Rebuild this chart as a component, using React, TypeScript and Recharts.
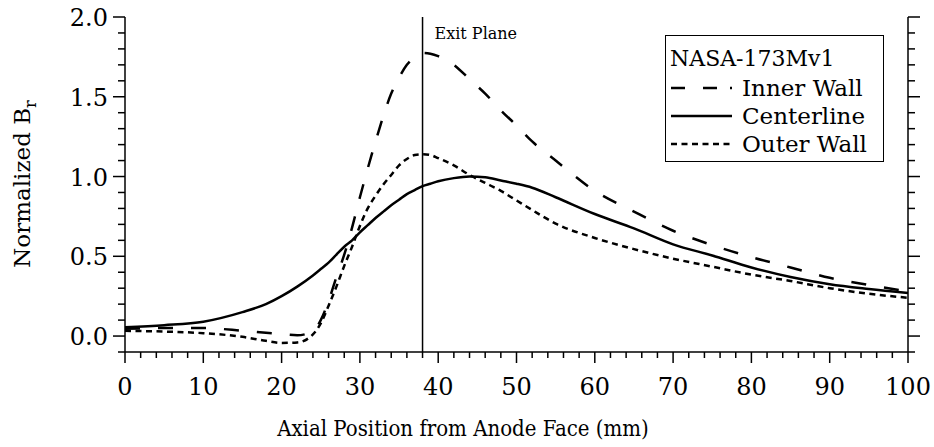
import { LineChart, Line, XAxis, YAxis, ReferenceLine } from 'recharts'

const axialPosition = [0, 5, 10, 15, 18, 20, 22, 24, 25, 26, 27, 28, 29, 30, 31, 32, 33, 34, 35, 36, 37, 38, 39, 40, 42, 44, 46, 48, 50, 52, 55, 60, 65, 70, 75, 80, 85, 90, 95, 100]
const innerWall = [0.045, 0.05, 0.05, 0.033, 0.02, 0.012, 0.005, 0.03, 0.1, 0.22, 0.37, 0.51, 0.68, 0.87, 1.05, 1.22, 1.38, 1.52, 1.62, 1.7, 1.75, 1.775, 1.77, 1.755, 1.7, 1.61, 1.52, 1.415, 1.32, 1.22, 1.1, 0.91, 0.78, 0.66, 0.57, 0.495, 0.43, 0.365, 0.32, 0.28]
const centerline = [0.055, 0.068, 0.09, 0.15, 0.2, 0.25, 0.31, 0.38, 0.42, 0.46, 0.51, 0.56, 0.6, 0.65, 0.695, 0.74, 0.78, 0.82, 0.855, 0.89, 0.915, 0.94, 0.955, 0.97, 0.99, 1.0, 0.995, 0.975, 0.955, 0.93, 0.87, 0.765, 0.675, 0.575, 0.505, 0.43, 0.37, 0.325, 0.295, 0.27]
const outerWall = [0.033, 0.028, 0.018, -0.005, -0.03, -0.043, -0.04, 0.01, 0.08, 0.19, 0.31, 0.44, 0.56, 0.69, 0.8, 0.88, 0.95, 1.01, 1.07, 1.11, 1.135, 1.14, 1.135, 1.115, 1.07, 1.01, 0.96, 0.91, 0.85, 0.79, 0.705, 0.615, 0.545, 0.485, 0.435, 0.385, 0.345, 0.3, 0.265, 0.24]

const xMajorTicks = [0, 10, 20, 30, 40, 50, 60, 70, 80, 90, 100]
const xTicks = Array.from({ length: 51 }, (_, i) => i * 2)
const yMajorTicks = [0, 0.5, 1, 1.5, 2]
const yTicks = Array.from({ length: 22 }, (_, i) => (i - 1) / 10)
const exitPlane = 38

const data = axialPosition.map((x, i) => ({
  x,
  inner: innerWall[i],
  center: centerline[i],
  outer: outerWall[i],
}))

const FONT = "'Century Schoolbook', 'DejaVu Serif', serif"
const NARROW = "'Century Schoolbook', 'DejaVu Serif Condensed', 'DejaVu Serif', serif"

const isMajorX = (v: number) => xMajorTicks.includes(v)
const isMajorY = (v: number) => yMajorTicks.some((m) => Math.abs(m - v) < 1e-6)

function BottomTick({ x, y, payload }: any) {
  const major = isMajorX(payload.value)
  return (
    <g>
      <line x1={x} x2={x} y1={y} y2={y + (major ? 11 : 6)} stroke="#000" strokeWidth={1.5} />
      {major && (
        <text x={x} y={y + 43} textAnchor="middle" fontFamily={FONT} fontSize={24} fill="#000">
          {payload.value}
        </text>
      )}
    </g>
  )
}

function TopTick({ x, y, payload }: any) {
  const major = isMajorX(payload.value)
  return <line x1={x} x2={x} y1={y} y2={y - (major ? 11 : 5)} stroke="#000" strokeWidth={1.5} />
}

function LeftTick({ x, y, payload }: any) {
  const major = isMajorY(payload.value)
  return (
    <g>
      <line x1={x} x2={x - (major ? 12 : 7)} y1={y} y2={y} stroke="#000" strokeWidth={1.5} />
      {major && (
        <text x={x - 17} y={y + 9} textAnchor="end" fontFamily={FONT} fontSize={24} fill="#000">
          {payload.value.toFixed(1)}
        </text>
      )}
    </g>
  )
}

function RightTick({ x, y, payload }: any) {
  const major = isMajorY(payload.value)
  return <line x1={x} x2={x + (major ? 12 : 7)} y1={y} y2={y} stroke="#000" strokeWidth={1.5} />
}

const legendRows = [
  { label: 'Inner Wall', dash: '14 18 14 13 2 40', top: 52 },
  { label: 'Centerline', dash: undefined, top: 80 },
  { label: 'Outer Wall', dash: '6 4.5', top: 108 },
]

function Legend() {
  return (
    <div
      style={{
        position: 'absolute',
        left: 665,
        top: 35,
        width: 219,
        height: 127,
        boxSizing: 'border-box',
        border: '1.5px solid #000',
        background: '#fff',
        fontFamily: FONT,
        fontSize: 22,
      }}
    >
      <div style={{ position: 'absolute', left: 4, top: 22, transform: 'translateY(-50%)', whiteSpace: 'nowrap' }}>
        NASA-173Mv1
      </div>
      {legendRows.map((r) => (
        <div key={r.label} style={{ position: 'absolute', left: 0, top: r.top, transform: 'translateY(-50%)', display: 'flex', alignItems: 'center', whiteSpace: 'nowrap' }}>
          <svg width={76} height={10}>
            <line x1={5} x2={66} y1={5} y2={5} stroke="#000" strokeWidth={2.5} strokeDasharray={r.dash} />
          </svg>
          <span style={{ fontSize: 23 }}>{r.label}</span>
        </div>
      ))}
    </div>
  )
}

export default function App() {
  return (
    <div style={{ position: 'fixed', left: 0, top: 0, width: 934, height: 447, background: '#fff' }}>
      <LineChart width={934} height={447} data={data} margin={{ top: 17, right: 0, bottom: 0, left: 0 }}>
        <XAxis
          dataKey="x"
          type="number"
          domain={[0, 100]}
          ticks={xTicks}
          interval={0}
          tickSize={0}
          tickMargin={0}
          tickLine={false}
          height={95}
          stroke="#000"
          strokeWidth={1.5}
          tick={<BottomTick />}
          label={{
            content: () => (
              <text x={463} y={436} textAnchor="middle" fontFamily={NARROW} fontSize={22} fill="#000">
                Axial Position from Anode Face (mm)
              </text>
            ),
          }}
        />
        <XAxis
          xAxisId="top"
          orientation="top"
          dataKey="x"
          type="number"
          domain={[0, 100]}
          ticks={xTicks}
          interval={0}
          tickSize={0}
          tickMargin={0}
          tickLine={false}
          height={0}
          stroke="#000"
          strokeWidth={1.5}
          tick={<TopTick />}
        />
        <YAxis
          type="number"
          domain={[-0.1, 2]}
          ticks={yTicks}
          interval={0}
          allowDataOverflow
          tickSize={0}
          tickMargin={0}
          tickLine={false}
          width={125}
          stroke="#000"
          strokeWidth={1.5}
          tick={<LeftTick />}
          label={{
            content: () => (
              <text
                x={0}
                y={0}
                transform="translate(30, 184) rotate(-90)"
                textAnchor="middle"
                fontFamily={FONT}
                fontSize={23}
                fill="#000"
              >
                Normalized B<tspan dy={6} fontSize={16}>r</tspan>
              </text>
            ),
          }}
        />
        <YAxis
          yAxisId="right"
          orientation="right"
          type="number"
          domain={[-0.1, 2]}
          ticks={yTicks}
          interval={0}
          allowDataOverflow
          tickSize={0}
          tickMargin={0}
          tickLine={false}
          width={26}
          stroke="#000"
          strokeWidth={1.5}
          tick={<RightTick />}
        />
        <ReferenceLine
          x={exitPlane}
          stroke="#000"
          strokeWidth={1.5}
          label={{
            content: ({ viewBox }: any) => (
              <text x={viewBox.x + 12} y={viewBox.y + 22} fontFamily={FONT} fontSize={16} fill="#000">
                Exit Plane
              </text>
            ),
          }}
        />
        <Line type="monotone" dataKey="inner" stroke="#000" strokeWidth={2.5} strokeDasharray="15 18" dot={false} isAnimationActive={false} />
        <Line type="monotone" dataKey="center" stroke="#000" strokeWidth={2.5} dot={false} isAnimationActive={false} />
        <Line type="monotone" dataKey="outer" stroke="#000" strokeWidth={2.5} strokeDasharray="6 4.5" dot={false} isAnimationActive={false} />
      </LineChart>
      <Legend />
    </div>
  )
}
